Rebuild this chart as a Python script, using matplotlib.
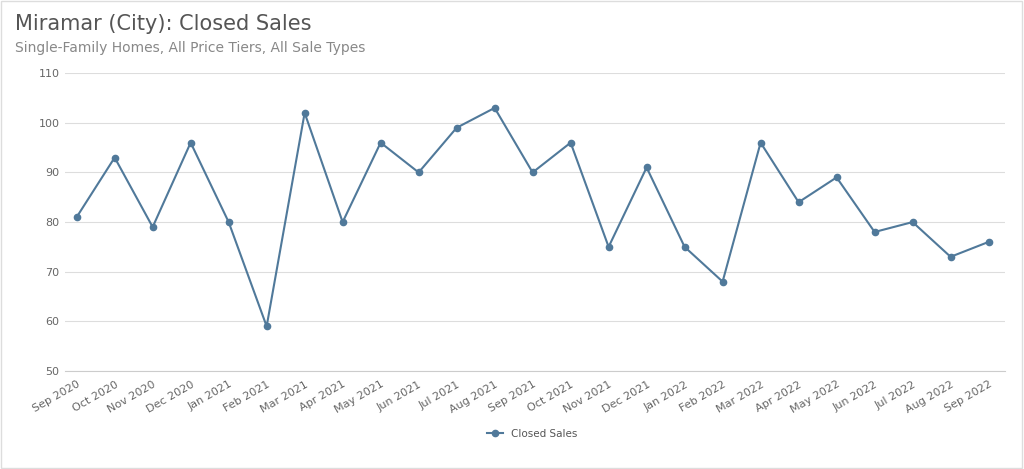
import matplotlib
matplotlib.use("Agg")
import matplotlib.pyplot as plt

months = ["Sep 2020","Oct 2020","Nov 2020","Dec 2020","Jan 2021","Feb 2021","Mar 2021","Apr 2021",
          "May 2021","Jun 2021","Jul 2021","Aug 2021","Sep 2021","Oct 2021","Nov 2021","Dec 2021",
          "Jan 2022","Feb 2022","Mar 2022","Apr 2022","May 2022","Jun 2022","Jul 2022","Aug 2022","Sep 2022"]
closed_sales = [81,93,79,96,80,59,102,80,96,90,99,103,90,96,75,91,75,68,96,84,89,78,80,73,76]
yticks = [50,60,70,80,90,100,110]

color = "#50799a"
fig = plt.figure(figsize=(10.24,4.69), dpi=100)
fig.patches.append(plt.Rectangle((0.001,0.002),0.997,0.995,transform=fig.transFigure,
                                 fill=False,edgecolor="#dddddd",lw=1))
ax = fig.add_axes([0.063,0.209,0.918,0.635])
x = list(range(len(months)))
ax.plot(x, closed_sales, color=color, lw=1.5, marker="o", ms=4.5, label="Closed Sales")
ax.set_xlim(-0.32,24.42)
ax.set_ylim(50,110)
ax.set_yticks(yticks)
ax.set_xticks(x)
ax.set_xticklabels(months, rotation=30, ha="right", rotation_mode="anchor")
ax.tick_params(colors="#666666", labelsize=8, length=0)
ax.tick_params(axis="x", pad=6)
ax.grid(axis="y", color="#dddddd", lw=0.8)
for s in ax.spines.values():
    s.set_visible(False)
ax.spines["bottom"].set_visible(True)
ax.spines["bottom"].set_color("#cccccc")
ax.set_axisbelow(True)
fig.text(0.015,0.935,"Miramar (City): Closed Sales",fontsize=15,color="#555555")
fig.text(0.015,0.89,"Single-Family Homes, All Price Tiers, All Sale Types",fontsize=10,color="#888888")
fig.legend(loc="center",bbox_to_anchor=(0.52,0.075),frameon=False,fontsize=7.5,
           labelcolor="#555555",handlelength=1.5)
fig.savefig("out.png",dpi=100,facecolor="white")
